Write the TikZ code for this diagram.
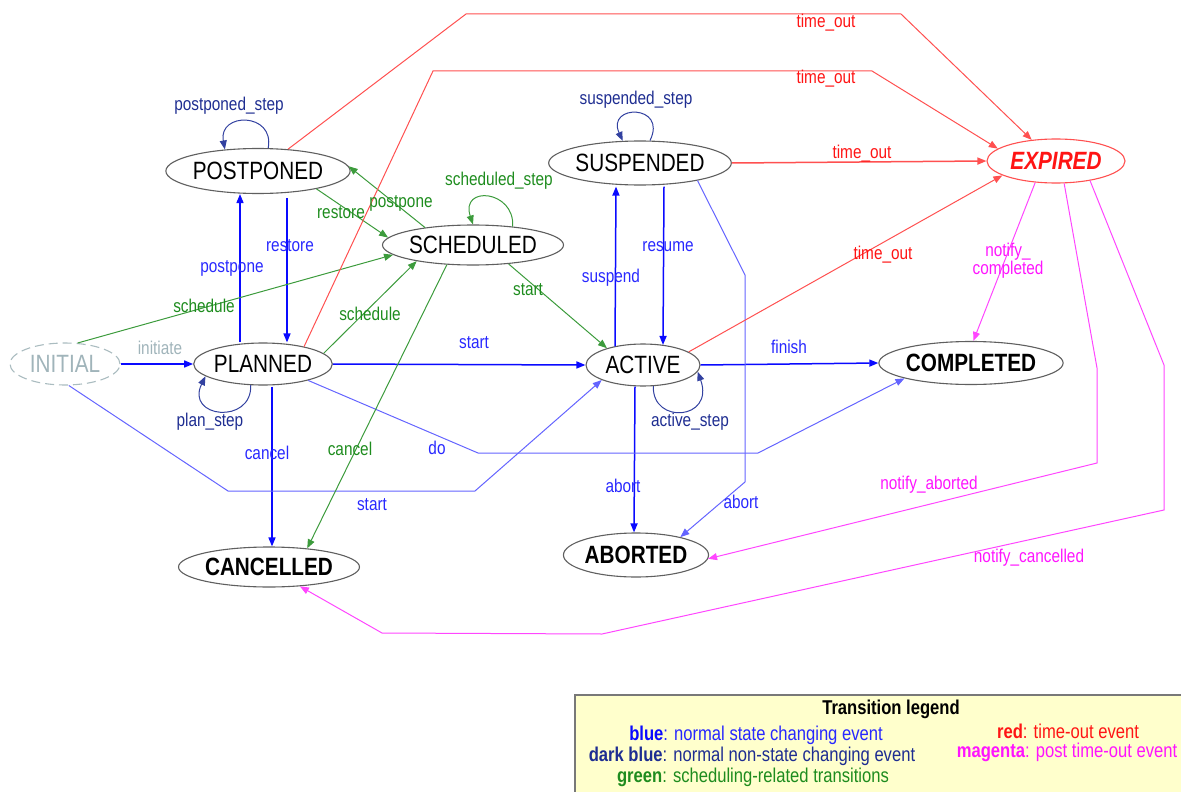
\documentclass[tikz,border=0pt]{standalone}
\usepackage{fontspec}
\setmainfont{Liberation Sans}[FakeStretch=0.83]
\usetikzlibrary{shapes.geometric,arrows.meta}
\definecolor{cblue}{RGB}{10,10,255}
\definecolor{tblue}{RGB}{40,40,255}
\definecolor{lblue}{RGB}{100,100,255}
\definecolor{lgreen}{RGB}{60,155,60}
\definecolor{tgreen}{RGB}{30,140,30}
\definecolor{cred}{RGB}{255,80,80}
\definecolor{tred}{RGB}{255,20,20}
\definecolor{cmag}{RGB}{255,70,255}
\definecolor{tmag}{RGB}{255,20,255}
\definecolor{dblue}{RGB}{50,65,160}
\definecolor{tdblue}{RGB}{30,45,145}
\definecolor{stgray}{RGB}{95,95,95}
\definecolor{inigray}{RGB}{170,188,192}
\definecolor{initext}{RGB}{160,180,186}
\definecolor{legfill}{RGB}{255,255,204}
\definecolor{leggray}{RGB}{120,120,120}
\newcommand\mynodefont{\fontsize{25}{28}\selectfont}
\newcommand\mylabfont{\fontsize{18.5}{21}\selectfont}
\newcommand\mylegfont{\fontsize{20}{22}\selectfont}
\tikzset{
  st/.style={ellipse, draw=stgray, line width=1.1pt, fill=white, inner sep=0pt, font=\mynodefont},
  arr/.style={-{Triangle[length=9pt,width=7pt]}},
  eb/.style={arr, draw=cblue, line width=1.5pt},
  el/.style={arr, draw=lblue, line width=1pt},
  eg/.style={arr, draw=lgreen, line width=1pt},
  er/.style={arr, draw=cred, line width=1pt},
  em/.style={arr, draw=cmag, line width=1pt},
  ed/.style={arr, draw=dblue, line width=1pt},
  lab/.style={font=\mylabfont, inner sep=0pt},
  lb/.style={lab, text=tblue},
  lg/.style={lab, text=tgreen},
  lr/.style={lab, text=tred},
  lm/.style={lab, text=tmag},
  ld/.style={lab, text=tdblue},
  lgd/.style={font=\mylegfont, inner sep=0pt}
}
\begin{document}
\begin{tikzpicture}[x=1pt,y=-1pt]
\useasboundingbox (0,0) rectangle (1181,792);
% legend box
\node (leg) [draw=leggray, line width=1.5pt, fill=legfill, anchor=north west, minimum width=620pt, minimum height=110pt, inner sep=0pt] at (574,694) {};
% states
\node[st, minimum width=110pt, minimum height=42pt, draw=inigray, dash pattern=on 9pt off 5pt, text=initext] (INI) at (65,364) {INITIAL};
\node[st, minimum width=134pt, minimum height=42pt] (PLA) at (263,364) {PLANNED};
\node[st, minimum width=154pt, minimum height=45pt] (POS) at (258,171) {POSTPONED};
\node[st, minimum width=156pt, minimum height=40pt] (SCH) at (473,245) {SCHEDULED};
\node[st, minimum width=156pt, minimum height=44pt] (SUS) at (640,163) {SUSPENDED};
\node[st, minimum width=138pt, minimum height=44pt, draw=cred, text=tred, font=\mynodefont\bfseries\itshape] (EXP) at (1056,161) {EXPIRED};
\node[st, minimum width=114pt, minimum height=42pt] (ACT) at (643,365) {ACTIVE};
\node[st, minimum width=156pt, minimum height=43pt, font=\mynodefont\bfseries] (COM) at (971,363) {COMPLETED};
\node[st, minimum width=156pt, minimum height=40pt, font=\mynodefont\bfseries] (CAN) at (269,567) {CANCELLED};
\node[st, minimum width=127pt, minimum height=44pt, font=\mynodefont\bfseries] (ABO) at (636,555) {ABORTED};
% blue, state changing
\draw[eb] (INI.east) -- (PLA.west);
\draw[eb] ([xshift=-23pt]PLA.north) -- ([xshift=-18pt]POS.south);
\draw[eb] ([xshift=29pt,yshift=-4pt]POS.south) -- ([xshift=24pt]PLA.north);
\draw[eb] ([xshift=9pt,yshift=-1pt]PLA.south) -- ([xshift=3pt]CAN.north);
\draw[eb] (PLA.east) -- (ACT.west);
\draw[eb] ([xshift=-28pt,yshift=-3pt]ACT.north) -- ([xshift=-24pt,yshift=-1pt]SUS.south);
\draw[eb] ([xshift=24pt,yshift=-1pt]SUS.south) -- ([xshift=20pt,yshift=-1.5pt]ACT.north);
\draw[eb] ([xshift=-8pt]ACT.south) -- ([xshift=-2pt]ABO.north);
\draw[eb] (ACT.east) -- (COM.west);
\draw[el] (INI.280) -- (228,491) -- (475,491) -- (ACT.200);
\draw[el] (PLA.340) -- (478,453) -- (758,453) -- (COM.193);
\draw[el] (SUS.343) -- (745,275) -- (745,482) -- (ABO.22);
% green
\draw[eg] (INI.59) -- (SCH.187);
\draw[eg] (POS.343) -- (SCH.175);
\draw[eg] (SCH.160) -- (POS.3);
\draw[eg] (SCH.25) .. controls (515,190) and (460,185) .. (SCH.north);
\draw[eg] (PLA.10) -- (SCH.196);
\draw[eg] (SCH.332) -- (ACT.155);
\draw[eg] (SCH.217) -- (CAN.26);
% red
\draw[er] (POS.36) -- (466,14) -- (901,14) -- (EXP.139);
\draw[er] (PLA.23) -- (433,71) -- (872,71) -- (EXP.168);
\draw[er, line width=1.5pt] (SUS.east) -- (EXP.west);
\draw[er] (ACT.16) -- (EXP.195);
% magenta
\draw[em] (EXP.226) -- (COM.84);
\draw[em] (EXP.290) -- (1097,368) -- (1097,463) -- (ABO.357);
\draw[em] (EXP.330) -- (1164,365) -- (1164,510) -- (602,634) -- (382,633) -- (CAN.328);
% dark blue loops
\draw[ed] (PLA.240) .. controls (252,425) and (185,418) .. (PLA.192);
\draw[ed] (POS.66) .. controls (275,112) and (218,112) .. (POS.147);
\draw[ed] (SUS.66) .. controls (668,104) and (606,104) .. (SUS.128);
\draw[ed] (ACT.296) .. controls (652,425) and (715,420) .. (ACT.353);
% labels
\node[lab, text=initext] (t1) at (160,348) {initiate};
\node[lg] (t2) at (204,306) {schedule};
\node[lb] (t3) at (372,505) {start};
\node[lb] (t4) at (232,268) {postpone};
\node[lb] (t5) at (290,246) {restore};
\node[ld] (t6) at (210,422) {plan\_step};
\node[ld] (t7) at (229,106) {postponed\_step};
\node[lg] (t8) at (341,213) {restore};
\node[lg] (t9) at (401,203) {postpone};
\node[lg] (t10) at (499,181) {scheduled\_step};
\node[lg] (t11) at (370,314) {schedule};
\node[lg] (t12) at (528,290) {start};
\node[lg] (t13) at (350,449) {cancel};
\node[lb] (t14) at (474,343) {start};
\node[lb] (t15) at (267,453) {cancel};
\node[lb] (t16) at (437,448) {do};
\node[lr] (t17) at (826,23) {time\_out};
\node[lr] (t18) at (826,79) {time\_out};
\node[lr] (t19) at (862,154) {time\_out};
\node[lr] (t20) at (883,255) {time\_out};
\node[lb] (t21) at (611,278) {suspend};
\node[lb] (t22) at (668,247) {resume};
\node[ld] (t23) at (636,100) {suspended\_step};
\node[lb] (t24) at (741,502) {abort};
\node[lb] (t25) at (623,486) {abort};
\node[ld] (t26) at (690,422) {active\_step};
\node[lb] (t27) at (789,347) {finish};
\node[lm, align=center] (t28) at (1008,261) {notify\_\\[-3pt]completed};
\node[lm] (t29) at (929,485) {notify\_aborted};
\node[lm] (t30) at (1029,558) {notify\_cancelled};
% legend texts
\node[lgd] (g0) at (891,709) {\bfseries Transition legend};
\node[lgd] (g1) at (756,735) {\textcolor{cblue}{\bfseries blue}\textcolor{tblue}{: normal state changing event}};
\node[lgd] (g2) at (752,756) {\color{tdblue}\textbf{dark blue}: normal non-state changing event};
\node[lgd] (g3) at (753,777) {\color{tgreen}\textbf{green}: scheduling-related transitions};
\node[lgd] (g4) at (1068,731) {\color{tred}\textbf{red}: time-out event};
\node[lgd] (g5) at (1067,752) {\color{tmag}\textbf{magenta}: post time-out event};
\end{tikzpicture}
\end{document}
